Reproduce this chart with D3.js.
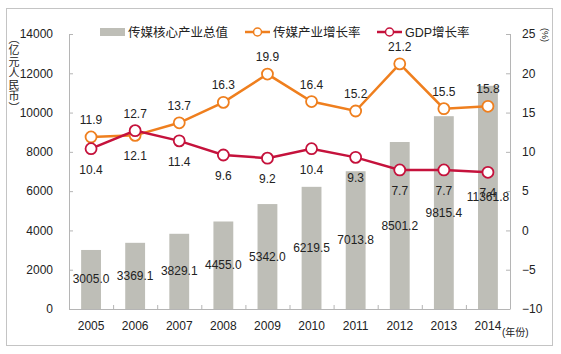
<!DOCTYPE html>
<html>
<head>
<meta charset="utf-8">
<script src="https://cdn.jsdelivr.net/npm/d3@7"></script>
<style>
  body { margin: 0; background: #fff; }
  svg text { font-family: "Liberation Sans", "Noto Sans CJK SC", sans-serif; fill: #222; }
</style>
</head>
<body>
<main></main>
<script>
const years = ["2005", "2006", "2007", "2008", "2009", "2010", "2011", "2012", "2013", "2014"];
const coreValue = [3005.0, 3369.1, 3829.1, 4455.0, 5342.0, 6219.5, 7013.8, 8501.2, 9815.4, 11361.8];
const mediaGrowth = [11.9, 12.1, 13.7, 16.3, 19.9, 16.4, 15.2, 21.2, 15.5, 15.8];
const gdpGrowth = [10.4, 12.7, 11.4, 9.6, 9.2, 10.4, 9.3, 7.7, 7.7, 7.4];
// label texts as printed on the chart (2006 labels sit outside the pair of points)
const mediaLabels = ["11.9", "12.7", "13.7", "16.3", "19.9", "16.4", "15.2", "21.2", "15.5", "15.8"];
const gdpLabels = ["10.4", "12.1", "11.4", "9.6", "9.2", "10.4", "9.3", "7.7", "7.7", "7.4"];
const leftTicks = [0, 2000, 4000, 6000, 8000, 10000, 12000, 14000];
const rightTicks = [-10, -5, 0, 5, 10, 15, 20, 25];

const width = 561;
const height = 354;
const margin = {top: 34, bottom: 45, left: 69, right: 51};

const orange = "#ef7f1e";
const red = "#c5123c";
const barColor = "#bebeb7";
const axisColor = "#b5b5b5";

const svg = d3.select("main")
    .append("svg")
        .attr("width", width)
        .attr("height", height);

// outer frame
svg.append("rect")
    .attr("x", 6.5).attr("y", 8.5)
    .attr("width", 546).attr("height", 337)
    .attr("fill", "none")
    .attr("stroke", "#c4c4c4");

const x = d3.scaleBand()
    .domain(years)
    .range([margin.left, width - margin.right])
    .paddingInner(0.55)
    .paddingOuter(0.275);
const xBand = d3.scaleBand()
    .domain(years)
    .range([margin.left, width - margin.right]);
const y = d3.scaleLinear()
    .domain([0, 14000])
    .range([height - margin.bottom, margin.top]);
const y2 = d3.scaleLinear()
    .domain([-10, 25])
    .range([height - margin.bottom, margin.top]);

const cx = d => xBand(d) + xBand.bandwidth() / 2;

// bars
svg.append("g")
    .selectAll("rect")
    .data(years)
    .join("rect")
        .attr("x", d => x(d))
        .attr("width", x.bandwidth())
        .attr("y", (d, i) => y(coreValue[i]))
        .attr("height", (d, i) => y(0) - y(coreValue[i]))
        .attr("fill", barColor);

// axes
const axisBottom = svg.append("g")
    .attr("transform", `translate(0, ${y(0)})`)
    .call(d3.axisBottom(xBand).tickSize(0).tickPadding(12));
axisBottom.select(".domain").attr("stroke", axisColor);
axisBottom.selectAll("text").attr("font-size", 12);
axisBottom.selectAll(".bound")
    .data(years.slice(1))
    .join("line")
        .attr("class", "bound")
        .attr("x1", d => xBand(d) + 0.5).attr("x2", d => xBand(d) + 0.5)
        .attr("y1", 0).attr("y2", -4)
        .attr("stroke", axisColor);
axisBottom.append("text")
    .attr("x", xBand("2014") + xBand.bandwidth() / 2 + 14)
    .attr("y", 27)
    .attr("font-size", 10)
    .attr("fill", "#222")
    .attr("text-anchor", "start")
    .text("(年份)");

const axisLeft = svg.append("g")
    .attr("transform", `translate(${margin.left}, 0)`)
    .call(d3.axisLeft(y).tickValues(leftTicks).tickSize(-4).tickPadding(16).tickFormat(d3.format("d")));
axisLeft.select(".domain").remove();
axisLeft.append("line")
    .attr("x1", 0.5).attr("x2", 0.5)
    .attr("y1", y(0)).attr("y2", y(14000))
    .attr("stroke", axisColor);
axisLeft.selectAll(".tick line").attr("stroke", axisColor);
axisLeft.selectAll(".tick text").attr("font-size", 12);

const axisRight = svg.append("g")
    .attr("transform", `translate(${width - margin.right}, 0)`)
    .call(d3.axisRight(y2).tickValues(rightTicks).tickSize(-4).tickPadding(12));
axisRight.select(".domain").remove();
axisRight.append("line")
    .attr("x1", 0.5).attr("x2", 0.5)
    .attr("y1", y2(-10)).attr("y2", y2(25))
    .attr("stroke", axisColor);
axisRight.selectAll(".tick line").attr("stroke", axisColor);
axisRight.selectAll(".tick text").attr("font-size", 12);

// left axis title, written vertically
svg.append("text")
    .attr("x", 13)
    .attr("y", 33)
    .attr("font-size", 11)
    .style("writing-mode", "vertical-rl")
    .style("letter-spacing", "0.5px")
    .text("（亿元人民币）");

// right axis title
svg.append("text")
    .attr("x", 545)
    .attr("y", 28)
    .attr("font-size", 9)
    .style("writing-mode", "vertical-rl")
    .text("(%)");

// bar labels
svg.append("g")
    .selectAll("text")
    .data(years)
    .join("text")
        .attr("x", d => cx(d))
        .attr("y", (d, i) => (y(coreValue[i]) + y(0)) / 2 + 4)
        .attr("text-anchor", "middle")
        .attr("font-size", 12)
        .text((d, i) => coreValue[i].toFixed(1));

// lines
const drawSeries = (values, color) => {
    const line = d3.line()
        .x((d, i) => cx(years[i]))
        .y(d => y2(d));
    svg.append("path")
        .datum(values)
        .attr("d", line)
        .attr("fill", "none")
        .attr("stroke", color)
        .attr("stroke-width", 2.5);
    svg.append("g")
        .selectAll("circle")
        .data(values)
        .join("circle")
            .attr("cx", (d, i) => cx(years[i]))
            .attr("cy", d => y2(d))
            .attr("r", 5.5)
            .attr("fill", "#fff")
            .attr("stroke", color)
            .attr("stroke-width", 1.8);
};
drawSeries(mediaGrowth, orange);
drawSeries(gdpGrowth, red);

svg.append("g")
    .selectAll("text")
    .data(mediaGrowth)
    .join("text")
        .attr("x", (d, i) => cx(years[i]))
        .attr("y", (d, i) => y2(Math.max(d, i === 1 ? gdpGrowth[i] : d)) - 13)
        .attr("text-anchor", "middle")
        .attr("font-size", 12)
        .text((d, i) => mediaLabels[i]);

svg.append("g")
    .selectAll("text")
    .data(gdpGrowth)
    .join("text")
        .attr("x", (d, i) => cx(years[i]))
        .attr("y", (d, i) => y2(Math.min(d, i === 1 ? mediaGrowth[i] : d)) + 25)
        .attr("text-anchor", "middle")
        .attr("font-size", 12)
        .text((d, i) => gdpLabels[i]);

// legend
const legend = svg.append("g").attr("transform", "translate(0, 32)");
legend.append("rect")
    .attr("x", 100).attr("y", -4)
    .attr("width", 25).attr("height", 8)
    .attr("fill", barColor);
legend.append("text")
    .attr("x", 128).attr("y", 4.5)
    .attr("font-size", 12.5)
    .text("传媒核心产业总值");

const legendItems = [
    {label: "传媒产业增长率", color: orange, x: 245},
    {label: "GDP增长率", color: red, x: 377}
];
legendItems.forEach(item => {
    legend.append("line")
        .attr("x1", item.x).attr("x2", item.x + 25)
        .attr("y1", 0).attr("y2", 0)
        .attr("stroke", item.color)
        .attr("stroke-width", 2.5);
    legend.append("circle")
        .attr("cx", item.x + 12.5).attr("cy", 0)
        .attr("r", 4)
        .attr("fill", "#fff")
        .attr("stroke", item.color)
        .attr("stroke-width", 1.5);
    legend.append("text")
        .attr("x", item.x + 28).attr("y", 4.5)
        .attr("font-size", 12.5)
        .text(item.label);
});
</script>
</body>
</html>
